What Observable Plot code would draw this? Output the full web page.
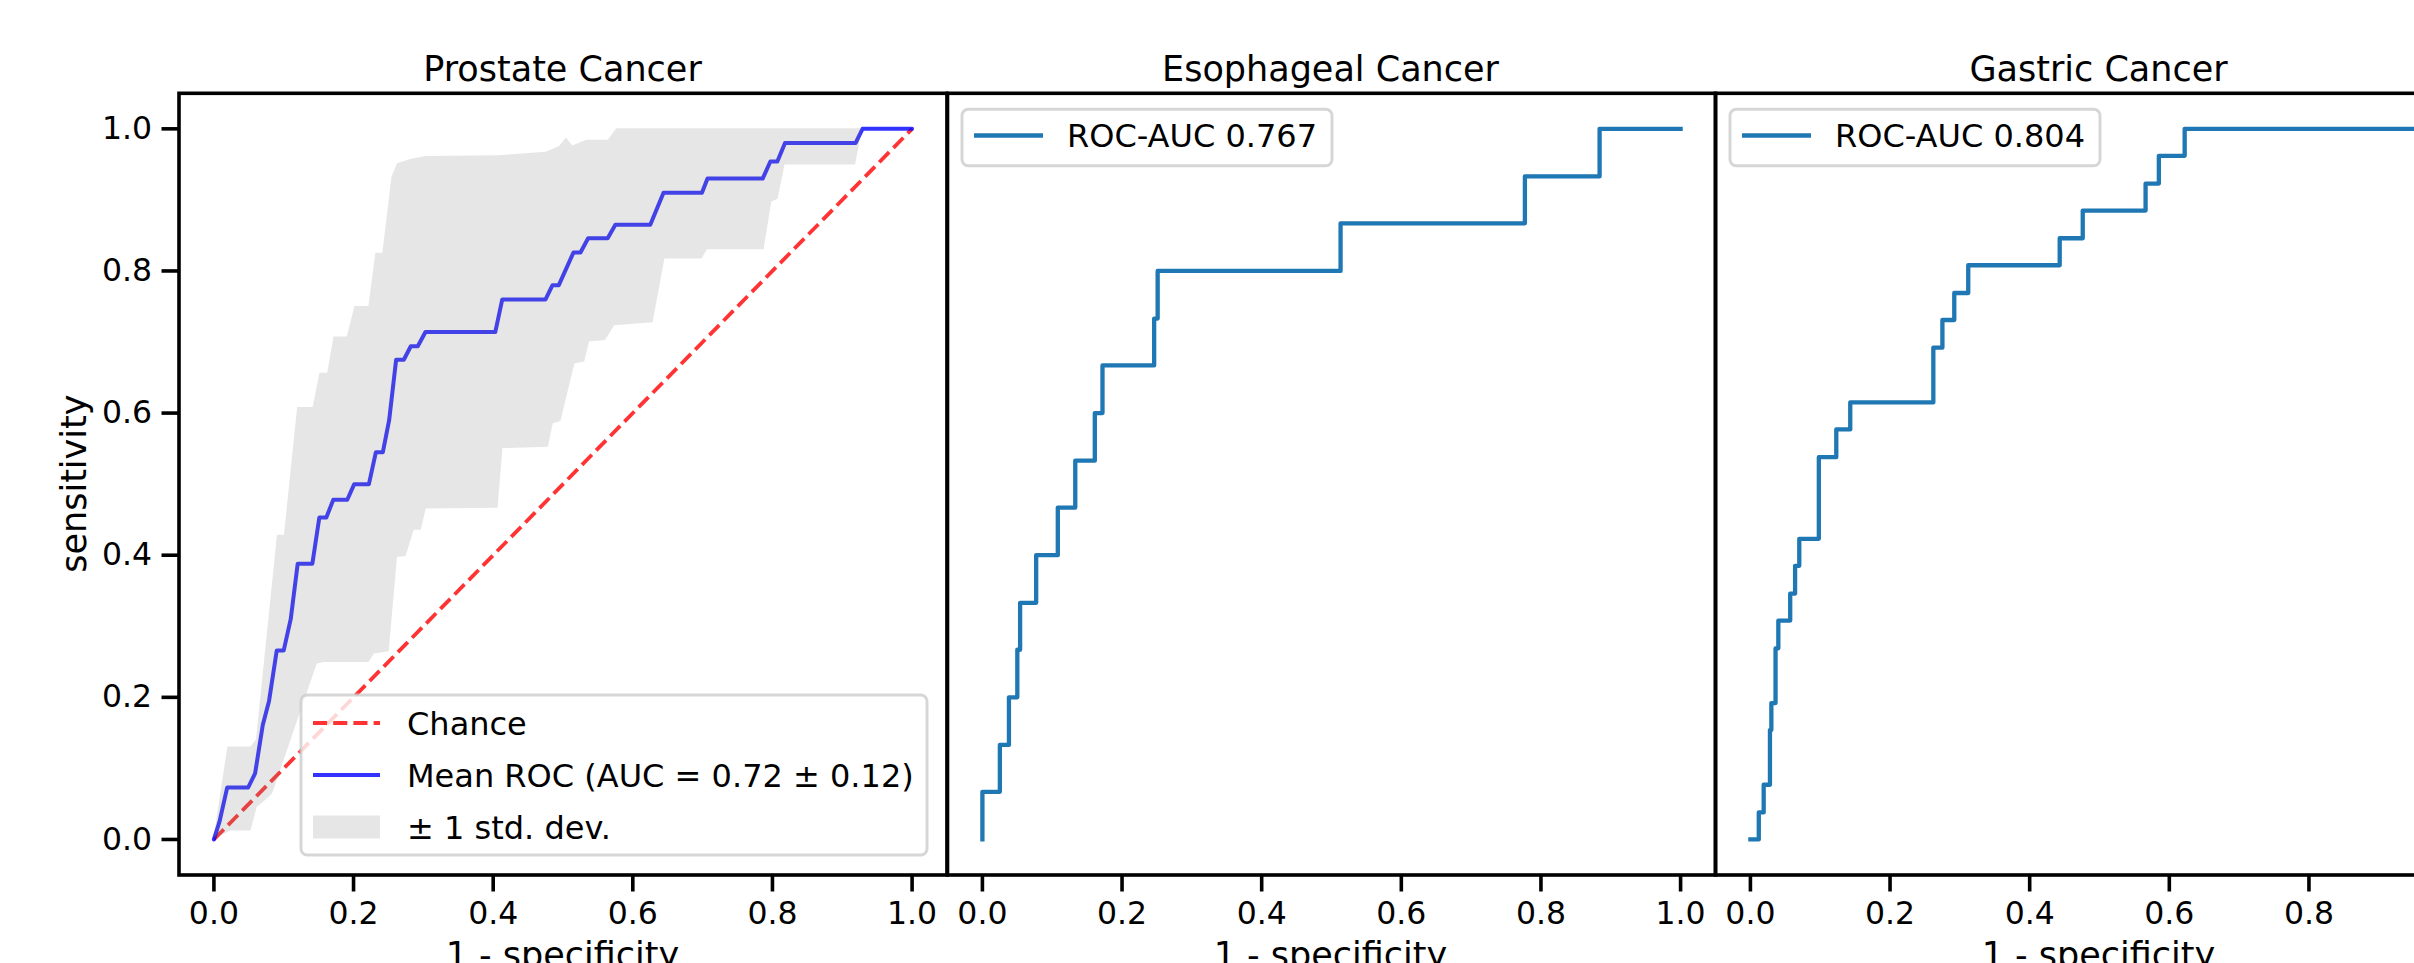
<!DOCTYPE html>
<html>
<head>
<meta charset="utf-8">
<script src="https://cdn.jsdelivr.net/npm/d3@7"></script>
<script src="https://cdn.jsdelivr.net/npm/@observablehq/plot@0.6"></script>
<style>
html, body { margin: 0; padding: 0; background: #fff; overflow: hidden; }
#wrap { position: relative; width: 2414px; height: 963px; overflow: hidden; background: #fff; }
#wrap > svg { position: absolute; top: 0; }
</style>
</head>
<body>
<div id="wrap"></div>
<script>
// ---------------- data ----------------
const panelTitles = ["Prostate Cancer", "Esophageal Cancer", "Gastric Cancer"];
const xLabel = "1 - specificity";
const yLabel = "sensitivity";
const xTicks = [0, 0.2, 0.4, 0.6, 0.8, 1.0];
const yTicks = [0, 0.2, 0.4, 0.6, 0.8, 1.0];

const prostateLegend = ["Chance", "Mean ROC (AUC = 0.72 \u00b1 0.12)", "\u00b1 1 std. dev."];
const esophagealLegend = "ROC-AUC 0.767";
const gastricLegend = "ROC-AUC 0.804";

// Prostate: chance diagonal
const chanceFpr = [0, 1];
const chanceTpr = [0, 1];

// Prostate: mean ROC
const meanFpr = [0, 0.008, 0.019, 0.049, 0.059, 0.070, 0.079, 0.090, 0.100, 0.110, 0.120, 0.141, 0.151, 0.161, 0.171, 0.191, 0.201, 0.222, 0.232, 0.242, 0.251, 0.261, 0.272, 0.282, 0.292, 0.303, 0.403, 0.413, 0.475, 0.485, 0.494, 0.515, 0.525, 0.536, 0.564, 0.575, 0.625, 0.644, 0.699, 0.707, 0.786, 0.797, 0.807, 0.818, 0.919, 0.929, 1.0];
const meanTpr = [0, 0.025, 0.073, 0.073, 0.093, 0.161, 0.195, 0.266, 0.266, 0.310, 0.388, 0.388, 0.453, 0.453, 0.478, 0.478, 0.500, 0.500, 0.545, 0.545, 0.590, 0.675, 0.675, 0.694, 0.694, 0.714, 0.714, 0.760, 0.760, 0.780, 0.780, 0.826, 0.826, 0.846, 0.846, 0.865, 0.865, 0.910, 0.910, 0.930, 0.930, 0.954, 0.954, 0.980, 0.980, 1.0, 1.0];

// Prostate: +1 std. dev. (upper edge of band)
const stdUpperFpr = [0, 0.020, 0.053, 0.061, 0.091, 0.101, 0.120, 0.142, 0.152, 0.163, 0.172, 0.191, 0.202, 0.222, 0.232, 0.242, 0.255, 0.263, 0.282, 0.304, 0.407, 0.476, 0.495, 0.505, 0.514, 0.534, 0.565, 0.577, 1.0];
const stdUpperTpr = [0, 0.130, 0.130, 0.140, 0.428, 0.428, 0.608, 0.608, 0.656, 0.656, 0.707, 0.707, 0.750, 0.750, 0.825, 0.825, 0.932, 0.951, 0.957, 0.961, 0.962, 0.967, 0.975, 0.987, 0.976, 0.984, 0.984, 1.0, 1.0];

// Prostate: -1 std. dev. (lower edge of band)
const stdLowerFpr = [0, 0.024, 0.053, 0.062, 0.074, 0.084, 0.148, 0.158, 0.222, 0.230, 0.251, 0.263, 0.275, 0.287, 0.297, 0.304, 0.407, 0.414, 0.479, 0.486, 0.497, 0.517, 0.531, 0.538, 0.561, 0.574, 0.629, 0.646, 0.699, 0.707, 0.788, 0.799, 0.808, 0.818, 0.919, 0.929, 1.0];
const stdLowerTpr = [0, 0.012, 0.012, 0.045, 0.055, 0.064, 0.247, 0.249, 0.249, 0.261, 0.264, 0.397, 0.398, 0.435, 0.435, 0.465, 0.466, 0.550, 0.552, 0.585, 0.588, 0.669, 0.672, 0.700, 0.702, 0.723, 0.727, 0.817, 0.817, 0.830, 0.830, 0.897, 0.901, 0.949, 0.949, 1.0, 1.0];

// Esophageal ROC
const esoFpr = [0, 0, 0.025, 0.025, 0.038, 0.038, 0.050, 0.050, 0.054, 0.054, 0.077, 0.077, 0.108, 0.108, 0.133, 0.133, 0.161, 0.161, 0.172, 0.172, 0.246, 0.246, 0.251, 0.251, 0.513, 0.513, 0.777, 0.777, 0.884, 0.884, 1.0];
const esoTpr = [0, 0.067, 0.067, 0.133, 0.133, 0.200, 0.200, 0.267, 0.267, 0.333, 0.333, 0.400, 0.400, 0.467, 0.467, 0.533, 0.533, 0.600, 0.600, 0.667, 0.667, 0.733, 0.733, 0.800, 0.800, 0.867, 0.867, 0.933, 0.933, 1.0, 1.0];

// Gastric ROC
const gasFpr = [0, 0.012, 0.012, 0.019, 0.019, 0.028, 0.028, 0.030, 0.030, 0.036, 0.036, 0.040, 0.040, 0.057, 0.057, 0.064, 0.064, 0.070, 0.070, 0.098, 0.098, 0.123, 0.123, 0.143, 0.143, 0.262, 0.262, 0.275, 0.275, 0.292, 0.292, 0.312, 0.312, 0.443, 0.443, 0.476, 0.476, 0.566, 0.566, 0.585, 0.585, 0.622, 0.622, 1.0];
const gasTpr = [0, 0, 0.038, 0.038, 0.077, 0.077, 0.154, 0.154, 0.192, 0.192, 0.269, 0.269, 0.308, 0.308, 0.346, 0.346, 0.385, 0.385, 0.423, 0.423, 0.538, 0.538, 0.577, 0.577, 0.615, 0.615, 0.692, 0.692, 0.731, 0.731, 0.769, 0.769, 0.808, 0.808, 0.846, 0.846, 0.885, 0.885, 0.923, 0.923, 0.962, 0.962, 1.0, 1.0];

// ---------------- layout / style ----------------
const FONT = "'DejaVu Sans', 'Liberation Sans', sans-serif";
const TICK_FS = 31.5, TITLE_FS = 35, LEG_FS = 32;
const panelLefts = [178.5, 946.5, 1714.5];
const panelW = 768;
const frameTop = 92.8, frameBottom = 874.5, H = 963;
const AXIS_LW = 3.6;

const rows = (xs, ys) => xs.map((x, i) => ({x, y: ys[i]}));
const nBand = Math.max(stdUpperFpr.length, stdLowerFpr.length);
const bandRows = d3.range(nBand).map(i => {
  const u = Math.min(i, stdUpperFpr.length - 1), l = Math.min(i, stdLowerFpr.length - 1);
  return {ux: stdUpperFpr[u], uy: stdUpperTpr[u], lx: stdLowerFpr[l], ly: stdLowerTpr[l]};
});

const fmt = d => d.toFixed(1);
const wrap = document.getElementById("wrap");

function makePanel(i, dataMarks) {
  const mL = i === 0 ? panelLefts[0] : 40, mR = 40;
  const marks = [
    ...dataMarks,
    Plot.axisX(xTicks, {tickSize: 17, tickPadding: 10, tickFormat: fmt, stroke: "black", strokeWidth: AXIS_LW, fill: "black", label: null, fontSize: TICK_FS}),
  ];
  if (i === 0) marks.push(Plot.axisY(yTicks, {tickSize: 17, tickPadding: 10, tickFormat: fmt, stroke: "black", strokeWidth: AXIS_LW, fill: "black", label: null, fontSize: TICK_FS}));
  marks.push(Plot.frame({stroke: "black", strokeWidth: AXIS_LW}));
  const svg = Plot.plot({
    width: mL + panelW + mR,
    height: H,
    marginLeft: mL, marginRight: mR, marginTop: frameTop, marginBottom: H - frameBottom,
    x: {domain: [-0.05, 1.05]},
    y: {domain: [-0.05, 1.05], axis: i === 0 ? undefined : null},
    style: {background: "transparent", fontFamily: FONT, fontSize: TICK_FS + "px", color: "black", overflow: "visible", maxWidth: "none"},
    marks
  });
  svg.style.left = (panelLefts[i] - mL) + "px";
  wrap.appendChild(svg);
}

// Prostate
makePanel(0, [
  Plot.line(rows(chanceFpr, chanceTpr), {x: "x", y: "y", stroke: "red", strokeOpacity: 0.8, strokeWidth: 3.8, strokeDasharray: "14.1 6.1", strokeLinecap: "butt"}),
  Plot.line(rows(meanFpr, meanTpr), {x: "x", y: "y", stroke: "blue", strokeOpacity: 0.8, strokeWidth: 4, strokeLinejoin: "round"}),
  Plot.area(bandRows, {x1: "lx", y1: "ly", x2: "ux", y2: "uy", fill: "grey", fillOpacity: 0.2})
]);
// Esophageal
makePanel(1, [
  Plot.line(rows(esoFpr, esoTpr), {x: "x", y: "y", stroke: "#1f77b4", strokeWidth: 4.3, strokeLinejoin: "round", strokeLinecap: "square"})
]);
// Gastric
makePanel(2, [
  Plot.line(rows(gasFpr, gasTpr), {x: "x", y: "y", stroke: "#1f77b4", strokeWidth: 4.3, strokeLinejoin: "round", strokeLinecap: "square"})
]);

// ---------------- overlay: titles, axis labels, legends ----------------
const ov = d3.select(wrap).append("svg")
  .attr("width", 2414).attr("height", H)
  .style("left", "0px").style("pointer-events", "none")
  .attr("font-family", FONT);

panelTitles.forEach((t, i) => {
  const cx = panelLefts[i] + panelW / 2;
  ov.append("text").attr("x", cx).attr("y", 81).attr("text-anchor", "middle")
    .attr("font-size", TITLE_FS).attr("fill", "black").text(t);
  ov.append("text").attr("x", cx).attr("y", 967).attr("text-anchor", "middle")
    .attr("font-size", TITLE_FS).attr("fill", "black").text(xLabel);
});
ov.append("text").attr("transform", `translate(86,${(frameTop + frameBottom) / 2}) rotate(-90)`)
  .attr("text-anchor", "middle").attr("font-size", TITLE_FS).attr("fill", "black").text(yLabel);

function legendBox(x, y, w, h) {
  ov.append("rect").attr("x", x).attr("y", y).attr("width", w).attr("height", h).attr("rx", 6.3)
    .attr("fill", "white").attr("fill-opacity", 0.8)
    .attr("stroke", "#cccccc").attr("stroke-opacity", 0.8).attr("stroke-width", 2.9);
}
function legendText(x, y, t) {
  ov.append("text").attr("x", x).attr("y", y + 11.5).attr("font-size", LEG_FS).attr("fill", "black").text(t);
}

// Prostate legend (lower right)
legendBox(301, 695, 626, 160);
const entryY = [723, 775, 827];
ov.append("line").attr("x1", 313).attr("x2", 380).attr("y1", entryY[0]).attr("y2", entryY[0])
  .attr("stroke", "red").attr("stroke-opacity", 0.8).attr("stroke-width", 3.8).attr("stroke-dasharray", "14.1 6.1");
ov.append("line").attr("x1", 313).attr("x2", 380).attr("y1", entryY[1]).attr("y2", entryY[1])
  .attr("stroke", "blue").attr("stroke-opacity", 0.8).attr("stroke-width", 4);
ov.append("rect").attr("x", 313).attr("y", entryY[2] - 11.5).attr("width", 67).attr("height", 23)
  .attr("fill", "grey").attr("fill-opacity", 0.2);
prostateLegend.forEach((t, k) => legendText(407, entryY[k], t));

// AUC legends (upper left)
[[1, esophagealLegend], [2, gastricLegend]].forEach(([i, t]) => {
  const L = panelLefts[i];
  legendBox(L + 15.5, 109.3, 370, 56.5);
  ov.append("line").attr("x1", L + 27.5).attr("x2", L + 96.5).attr("y1", 135.5).attr("y2", 135.5)
    .attr("stroke", "#1f77b4").attr("stroke-width", 4.3);
  legendText(L + 120.5, 135.5, t);
});
</script>
</body>
</html>
